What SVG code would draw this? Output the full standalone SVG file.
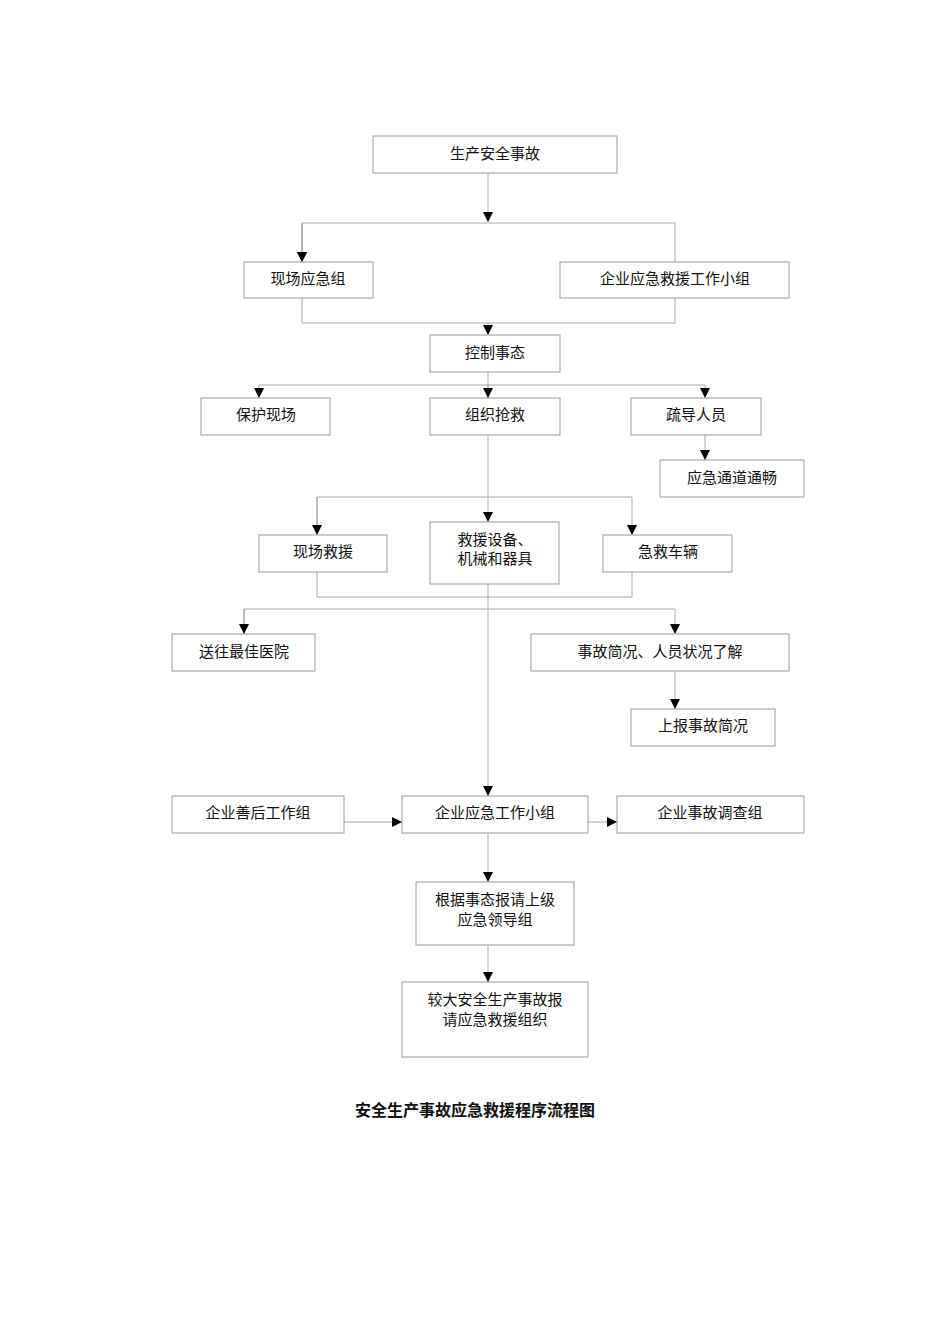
<svg xmlns="http://www.w3.org/2000/svg" width="950" height="1344" viewBox="0 0 950 1344">
<style>
rect{fill:#fff;stroke:#9a9a9a;stroke-width:1}
text{font-family:"Liberation Serif","Noto Sans CJK SC",serif;font-size:15px;fill:#111;text-anchor:middle}
.c path{fill:none;stroke:#a8a8a8;stroke-width:1}
.t{font-family:"Noto Sans CJK SC",sans-serif;font-size:16px;font-weight:bold}
</style>
<defs><marker id="a" markerWidth="10" markerHeight="12" refX="10" refY="5" orient="auto" markerUnits="userSpaceOnUse"><path d="M0,0L10,5L0,10Z" fill="#000"/></marker></defs>
<rect width="950" height="1344" style="stroke:none"/>
<g class="c">
<path d="M488,173V222" marker-end="url(#a)"/>
<path d="M302,262V223H675V262M302,223V262" marker-end="url(#a)"/>
<path d="M302,223V262" marker-end="url(#a)"/>
<path d="M302,298V323H675V298M488,323V335" marker-end="url(#a)"/>
<path d="M488,372V398M259,385H705V398" marker-end="url(#a)"/>
<path d="M259,385V398" marker-end="url(#a)"/>
<path d="M488,385V398" marker-end="url(#a)"/>
<path d="M705,435V460" marker-end="url(#a)"/>
<path d="M488,435V522" marker-end="url(#a)"/>
<path d="M317,535V497H632V535" marker-end="url(#a)"/>
<path d="M317,497V535" marker-end="url(#a)"/>
<path d="M317,572V597H632V572"/>
<path d="M488,584V796" marker-end="url(#a)"/>
<path d="M244,634V609H675V634" marker-end="url(#a)"/>
<path d="M244,609V634" marker-end="url(#a)"/>
<path d="M675,671V709" marker-end="url(#a)"/>
<path d="M344,822H402" marker-end="url(#a)"/>
<path d="M588,822H617" marker-end="url(#a)"/>
<path d="M488,833V882" marker-end="url(#a)"/>
<path d="M488,945V982" marker-end="url(#a)"/>
</g>
<g id="n1"><rect x="373" y="136" width="244" height="37"/><text x="495" y="159">生产安全事故</text></g>
<g id="n2"><rect x="244" y="262" width="129" height="36"/><text x="308" y="284">现场应急组</text></g>
<g id="n3"><rect x="560" y="262" width="229" height="36"/><text x="675" y="284">企业应急救援工作小组</text></g>
<g id="n4"><rect x="430" y="335" width="130" height="37"/><text x="495" y="358">控制事态</text></g>
<g id="n5"><rect x="201" y="398" width="129" height="37"/><text x="266" y="420">保护现场</text></g>
<g id="n6"><rect x="430" y="398" width="130" height="37"/><text x="495" y="420">组织抢救</text></g>
<g id="n7"><rect x="631" y="398" width="130" height="37"/><text x="696" y="420">疏导人员</text></g>
<g id="n8"><rect x="660" y="460" width="144" height="37"/><text x="732" y="483">应急通道通畅</text></g>
<g id="n9"><rect x="259" y="535" width="128" height="37"/><text x="323" y="557">现场救援</text></g>
<g id="n10"><rect x="430" y="522" width="129" height="62"/><text x="495" y="545">救援设备、</text><text x="495" y="564">机械和器具</text></g>
<g id="n11"><rect x="603" y="535" width="129" height="37"/><text x="668" y="557">急救车辆</text></g>
<g id="n12"><rect x="172" y="634" width="143" height="37"/><text x="244" y="657">送往最佳医院</text></g>
<g id="n13"><rect x="531" y="634" width="258" height="37"/><text x="660" y="657">事故简况、人员状况了解</text></g>
<g id="n14"><rect x="631" y="709" width="144" height="37"/><text x="703" y="731">上报事故简况</text></g>
<g id="n15"><rect x="172" y="796" width="172" height="37"/><text x="258" y="818">企业善后工作组</text></g>
<g id="n16"><rect x="402" y="796" width="186" height="37"/><text x="495" y="818">企业应急工作小组</text></g>
<g id="n17"><rect x="617" y="796" width="187" height="37"/><text x="710" y="818">企业事故调查组</text></g>
<g id="n18"><rect x="416" y="882" width="158" height="63"/><text x="495" y="905">根据事态报请上级</text><text x="495" y="925">应急领导组</text></g>
<g id="n19"><rect x="402" y="982" width="186" height="75"/><text x="495" y="1005">较大安全生产事故报</text><text x="495" y="1025">请应急救援组织</text></g>
<text class="t" x="475" y="1116">安全生产事故应急救援程序流程图</text>
</svg>
